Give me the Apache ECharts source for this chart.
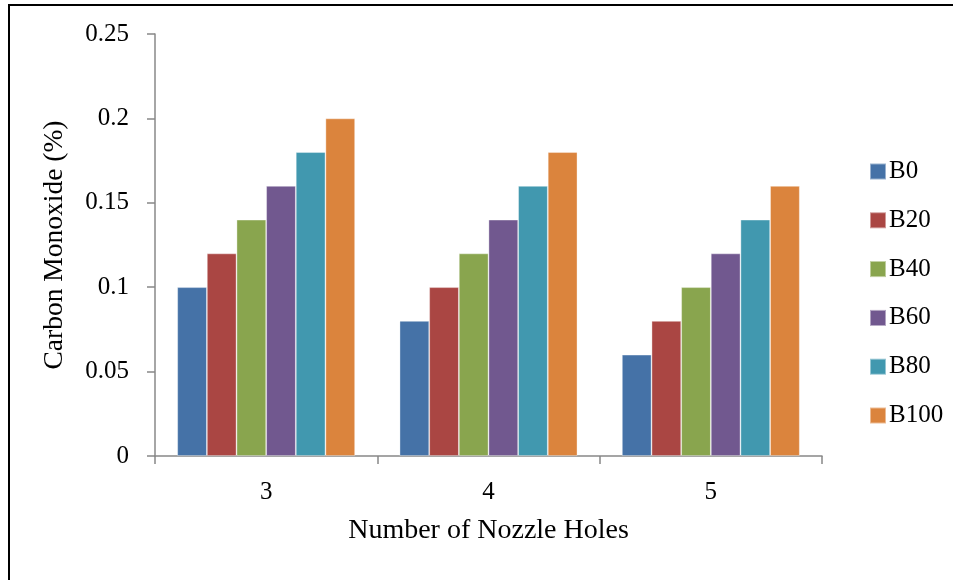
<!DOCTYPE html>
<html>
<head>
<meta charset="utf-8">
<script src="https://cdn.jsdelivr.net/npm/echarts@6/dist/echarts.min.js"></script>
<style>
html,body{margin:0;padding:0;background:#fff;}
#chart{width:958px;height:580px;}
</style>
</head>
<body>
<div id="chart"></div>
<script>
var categories = ['3', '4', '5'];
var seriesNames = ['B0', 'B20', 'B40', 'B60', 'B80', 'B100'];
var B0 = [0.10, 0.08, 0.06];
var B20 = [0.12, 0.10, 0.08];
var B40 = [0.14, 0.12, 0.10];
var B60 = [0.16, 0.14, 0.12];
var B80 = [0.18, 0.16, 0.14];
var B100 = [0.20, 0.18, 0.16];
var seriesValues = [B0, B20, B40, B60, B80, B100];
var colors = ['#4572A7', '#AA4643', '#89A54E', '#71588F', '#4198AF', '#DB843D'];

var FONT = 'Liberation Serif';
var chart = echarts.init(document.getElementById('chart'), null, {renderer: 'canvas'});
var option = {
  animation: false,
  color: colors,
  textStyle: {fontFamily: FONT},
  grid: {left: 155, right: 136, top: 34, bottom: 124, containLabel: false},
  legend: {
    orient: 'vertical',
    left: 864,
    top: 154,
    itemWidth: 16,
    itemHeight: 16,
    itemGap: 23.8,
    icon: 'rect',
    data: seriesNames,
    textStyle: {fontFamily: FONT, fontSize: 25, color: '#000', lineHeight: 25, padding: [0, 0, 0, -2]}
  },
  xAxis: {
    type: 'category',
    data: categories,
    name: 'Number of Nozzle Holes',
    nameLocation: 'middle',
    nameGap: 61,
    nameTextStyle: {fontFamily: FONT, fontSize: 28, color: '#000'},
    axisLine: {lineStyle: {color: '#888', width: 1.5}},
    axisTick: {show: true, length: 8, lineStyle: {color: '#888', width: 1.5}},
    axisLabel: {fontFamily: FONT, fontSize: 25, color: '#000', margin: 24}
  },
  yAxis: {
    type: 'value',
    min: 0,
    max: 0.25,
    interval: 0.05,
    name: 'Carbon Monoxide (%)',
    nameLocation: 'middle',
    nameGap: 86,
    nameTextStyle: {fontFamily: FONT, fontSize: 27.5, color: '#000'},
    axisLine: {show: true, lineStyle: {color: '#888', width: 1.5}},
    axisTick: {show: true, length: 8, lineStyle: {color: '#888', width: 1.5}},
    splitLine: {show: false},
    axisLabel: {fontFamily: FONT, fontSize: 25, color: '#000', margin: 26}
  },
  graphic: [
    {type: 'line', shape: {x1: 9, y1: 4, x2: 9, y2: 580}, style: {stroke: '#000', lineWidth: 2}, z: 100},
    {type: 'line', shape: {x1: 8, y1: 5, x2: 953, y2: 5}, style: {stroke: '#000', lineWidth: 2}, z: 100}
  ],
  series: seriesNames.map(function (n, i) {
    return {
      name: n,
      type: 'bar',
      data: seriesValues[i],
      barGap: '0%',
      barCategoryGap: '20%',
      itemStyle: {color: colors[i], borderColor: 'rgba(255,255,255,0.45)', borderWidth: 0.8}
    };
  })
};
chart.setOption(option);
</script>
</body>
</html>
